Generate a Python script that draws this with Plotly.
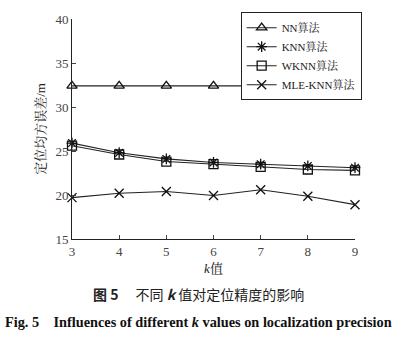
import plotly.graph_objects as go

k_values = [3, 4, 5, 6, 7, 8, 9]
nn = [32.4, 32.4, 32.4, 32.4, 32.4, 32.4, 32.4]
knn = [25.9, 24.8, 24.1, 23.7, 23.5, 23.3, 23.1]
wknn = [25.6, 24.6, 23.8, 23.5, 23.2, 22.9, 22.8]
mle_knn = [19.7, 20.2, 20.4, 19.95, 20.6, 19.85, 18.9]
names = ["NN算法", "KNN算法", "WKNN算法", "MLE-KNN算法"]
symbols = ["triangle-up-open", "asterisk-open", "square-open", "x-thin-open"]

serif = "Liberation Serif, Times New Roman, Noto Serif CJK SC, Noto Sans CJK SC, serif"

fig = go.Figure()
for name, vals, sym in zip(names, [nn, knn, wknn, mle_knn], symbols):
    fig.add_trace(go.Scatter(
        x=k_values, y=vals, name=name, mode="lines+markers",
        line=dict(color="#222", width=1.1),
        marker=dict(symbol=sym, size=9, color="#111", line=dict(width=1.3, color="#111")),
        cliponaxis=False,
    ))

fig.update_layout(
    width=396, height=339,
    margin=dict(l=72, r=41, t=16, b=100),
    paper_bgcolor="white", plot_bgcolor="white",
    font=dict(family=serif, size=13, color="#222"),
    showlegend=True,
    legend=dict(x=0.596, y=1.031, xanchor="left", yanchor="top",
                bordercolor="#222", borderwidth=1, bgcolor="white",
                font=dict(size=11, family=serif), tracegroupgap=0,
                itemwidth=30),
    xaxis=dict(range=[3, 9], tickvals=k_values, ticks="inside", ticklen=4,
               showline=True, linecolor="#222", linewidth=1, showgrid=False,
               zeroline=False, tickfont=dict(size=13, color="#444"),
               title=dict(text="<i>k</i>值", font=dict(size=13), standoff=6)),
    yaxis=dict(range=[15, 40], tickvals=[15, 20, 25, 30, 35, 40], ticks="inside",
               ticklen=4, showline=True, linecolor="#222", linewidth=1,
               showgrid=False, zeroline=False, tickfont=dict(size=13, color="#444"),
               title=dict(text="定位均方误差/m", font=dict(size=13), standoff=6)),
)

fig.add_annotation(text="<b>图 5</b>　 不同 <b><i>k</i></b> 值对定位精度的影响",
                   xref="paper", yref="paper", x=(198 - 72) / 283, y=(239 - 295) / 223,
                   showarrow=False, xanchor="center", yanchor="middle",
                   font=dict(size=14, family="Noto Sans CJK SC, sans-serif", color="#222"))
fig.add_annotation(text="<b>Fig. 5　Influences of different <i>k</i> values on localization precision</b>",
                   xref="paper", yref="paper", x=(198 - 72) / 283, y=(239 - 323) / 223,
                   showarrow=False, xanchor="center", yanchor="middle",
                   font=dict(size=14.3, family=serif, color="#111"))

fig.write_html("out.html")
